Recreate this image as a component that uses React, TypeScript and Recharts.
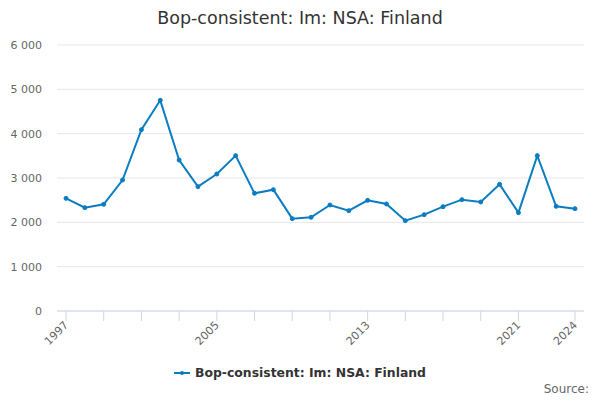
import React from "react";
import { LineChart, Line, XAxis, YAxis, CartesianGrid } from "recharts";

const years = [
  1997, 1998, 1999, 2000, 2001, 2002, 2003, 2004, 2005, 2006, 2007, 2008, 2009, 2010,
  2011, 2012, 2013, 2014, 2015, 2016, 2017, 2018, 2019, 2020, 2021, 2022, 2023, 2024,
];
const values = [
  2541, 2331, 2406, 2955, 4090, 4752, 3406, 2805, 3090, 3504, 2654, 2737, 2083, 2113,
  2391, 2263, 2496, 2414, 2038, 2173, 2353, 2511, 2459, 2857, 2218, 3504, 2361, 2308,
];
const xTicks = [1997, 1999, 2001, 2003, 2005, 2007, 2009, 2011, 2013, 2015, 2017, 2019, 2021, 2024];
const xLabels = [1997, 2005, 2013, 2021, 2024];
const yTicks = [0, 1000, 2000, 3000, 4000, 5000, 6000];
const seriesName = "Bop-consistent: Im: NSA: Finland";
const title = "Bop-consistent: Im: NSA: Finland";

const data = years.map((y, i) => ({ year: y, value: values[i] }));

const FONT = "'DejaVu Sans', Verdana, sans-serif";
const COLOR = "#0a7cc1";

const fmt = (v: number) => String(v).replace(/\B(?=(\d{3})+(?!\d))/g, " ");

const XTick = (props: any) => {
  const { x, y, payload } = props;
  if (!xLabels.includes(payload.value)) return null;
  return (
    <g transform={`translate(${x},${y})`}>
      <text
        x={0}
        y={0}
        dy={4}
        textAnchor="end"
        transform="rotate(-45)"
        fill="#666666"
        fontSize={11}
        fontFamily={FONT}
      >
        {payload.value}
      </text>
    </g>
  );
};

export default function App() {
  return (
    <div
      style={{
        position: "absolute",
        left: 0,
        top: 0,
        width: 600,
        height: 400,
        background: "#ffffff",
        fontFamily: FONT,
      }}
    >
      <div
        style={{
          position: "absolute",
          left: 0,
          top: 6,
          width: 600,
          textAlign: "center",
          fontSize: 17.5,
          color: "#333333",
          lineHeight: "24px",
        }}
      >
        {title}
      </div>
      <LineChart
        width={600}
        height={400}
        data={data}
        margin={{ top: 45, right: 16, left: 0, bottom: 39 }}
      >
        <CartesianGrid vertical={false} stroke="#e6e6e6" />
        <XAxis
          dataKey="year"
          type="number"
          domain={[1997, 2024]}
          ticks={xTicks}
          interval={0}
          padding={{ left: 9, right: 9 }}
          height={50}
          stroke="#ccd6eb"
          tickSize={10}
          tickMargin={2}
          tick={<XTick />}
        />
        <YAxis
          domain={[0, 6000]}
          ticks={yTicks}
          width={57}
          axisLine={false}
          tickLine={false}
          tickSize={0}
          tickMargin={15}
          tickFormatter={fmt}
          tick={{ fill: "#666666", fontSize: 11, fontFamily: FONT }}
        />
        <Line
          type="linear"
          dataKey="value"
          name={seriesName}
          stroke={COLOR}
          strokeWidth={2}
          dot={{ r: 2, fill: COLOR, stroke: COLOR, strokeWidth: 1 }}
          isAnimationActive={false}
        />
      </LineChart>
      <div
        style={{
          position: "absolute",
          left: 0,
          top: 365,
          width: 600,
          display: "flex",
          justifyContent: "center",
          alignItems: "center",
          fontSize: 12.4,
          fontWeight: "bold",
          color: "#333333",
        }}
      >
        <svg width={16} height={10} style={{ marginRight: 5 }}>
          <line x1={0} y1={5} x2={16} y2={5} stroke={COLOR} strokeWidth={2} />
          <circle cx={8} cy={5} r={2} fill={COLOR} />
        </svg>
        <span>{seriesName}</span>
      </div>
      <div
        style={{
          position: "absolute",
          right: 11,
          top: 382,
          fontSize: 12,
          color: "#666666",
        }}
      >
        Source:
      </div>
    </div>
  );
}
